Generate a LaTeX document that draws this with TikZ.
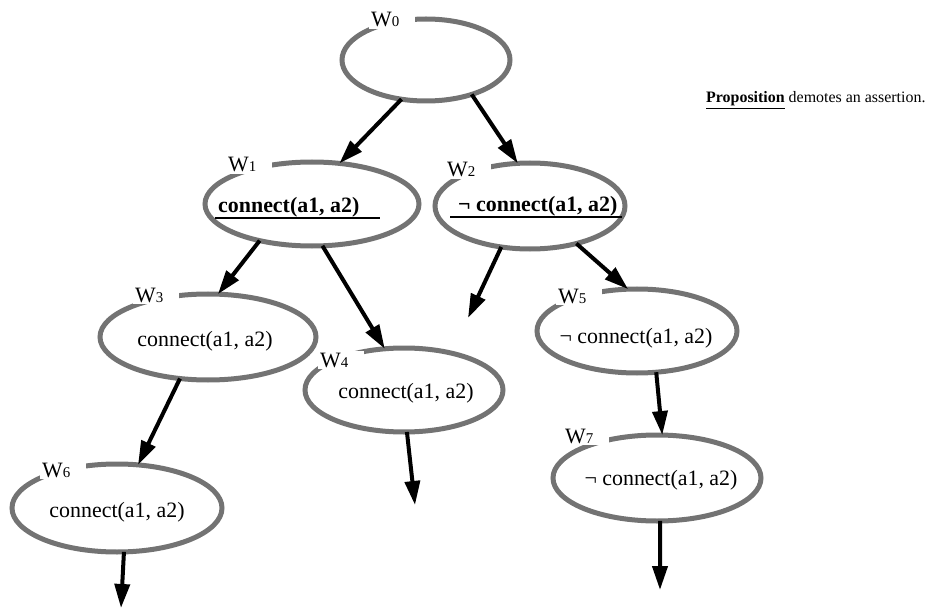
\documentclass[tikz,border=0pt]{standalone}
\usepackage{fontspec}
\setmainfont{Liberation Serif}
\usetikzlibrary{shapes.geometric,arrows.meta}
\newcommand\wn[1]{{\fontsize{15}{15}\selectfont #1}}
\begin{document}
\begin{tikzpicture}[x=1bp,y=-1bp,
  world/.style={ellipse, draw=black!55, line width=5bp, inner sep=0pt, outer sep=0pt},
  wname/.style={anchor=base west, fill=white, inner xsep=2bp, inner ysep=2bp,
                text width=42bp, font=\fontsize{22}{22}\selectfont},
  assert/.style={anchor=base, inner sep=0pt, font=\fontsize{22}{22}\selectfont},
  arr/.style={line width=4bp, -{Triangle[length=24bp,width=15bp]}},
  uline/.style={line width=1.6bp}
]
\useasboundingbox (0,0) rectangle (932,612);

% possible worlds
\node[world, minimum width=168bp, minimum height=82bp] (w0) at (426,60) {};
\node[world, minimum width=214bp, minimum height=84bp] (w1) at (312,204) {};
\node[world, minimum width=190bp, minimum height=86bp] (w2) at (530,206) {};
\node[world, minimum width=216bp, minimum height=86bp] (w3) at (208,337) {};
\node[world, minimum width=198bp, minimum height=84bp] (w4) at (404,390) {};
\node[world, minimum width=200bp, minimum height=84bp] (w5) at (637,331) {};
\node[world, minimum width=210bp, minimum height=88bp] (w6) at (117,508) {};
\node[world, minimum width=208bp, minimum height=86bp] (w7) at (657,478) {};

% world names
\node[wname] (l0) at (369,27)  {W\wn{0}};
\node[wname] (l1) at (226,172) {W\wn{1}};
\node[wname] (l2) at (445,177) {W\wn{2}};
\node[wname] (l3) at (133,302) {W\wn{3}};
\node[wname] (l4) at (318,367) {W\wn{4}};
\node[wname] (l5) at (556,303) {W\wn{5}};
\node[wname] (l6) at (40,477)  {W\wn{6}};
\node[wname] (l7) at (563,443) {W\wn{7}};

% propositions held in each world
\node[assert, anchor=base west] (t1) at (218,213) {\bfseries connect(a1, a2)};
\draw[uline] (215,218) -- (380,218);
\node[assert, anchor=base west] (t2) at (458,212) {\bfseries ¬ connect(a1, a2)};
\draw[uline] (450,217) -- (622,217);
\node[assert] (t3) at (205,346) {connect(a1, a2)};
\node[assert] (t4) at (406,398) {connect(a1, a2)};
\node[assert] (t5) at (636,343) {¬ connect(a1, a2)};
\node[assert] (t6) at (117,517) {connect(a1, a2)};
\node[assert] (t7) at (661,485) {¬ connect(a1, a2)};

% legend
\node[anchor=base west, inner sep=0pt, font=\fontsize{16}{16}\selectfont] (note) at (706,103)
  {\underline{\textbf{Proposition}} demotes an assertion.};

% open branches
\coordinate (e2) at (468,318);
\coordinate (e4) at (415,505);
\coordinate (e6) at (121,608);
\coordinate (e7) at (660,590);

% accessibility arrows
\draw[arr] (w0.238) -- (w1.56);
\draw[arr] (w0.323) -- (w2.106);
\draw[arr] (w1.215) -- (w3.77);
\draw[arr] (w1.284) -- (w4.115);
\draw[arr] (w2.235) -- (e2);
\draw[arr] (w2.321) -- (w5.102);
\draw[arr] (w3.236) -- (w6.64);
\draw[arr] (w4.274) -- (e4);
\draw[arr] (w5.295) -- (w7.83);
\draw[arr] (w6.279) -- (e6);
\draw[arr] (w7.274) -- (e7);
\end{tikzpicture}
\end{document}
